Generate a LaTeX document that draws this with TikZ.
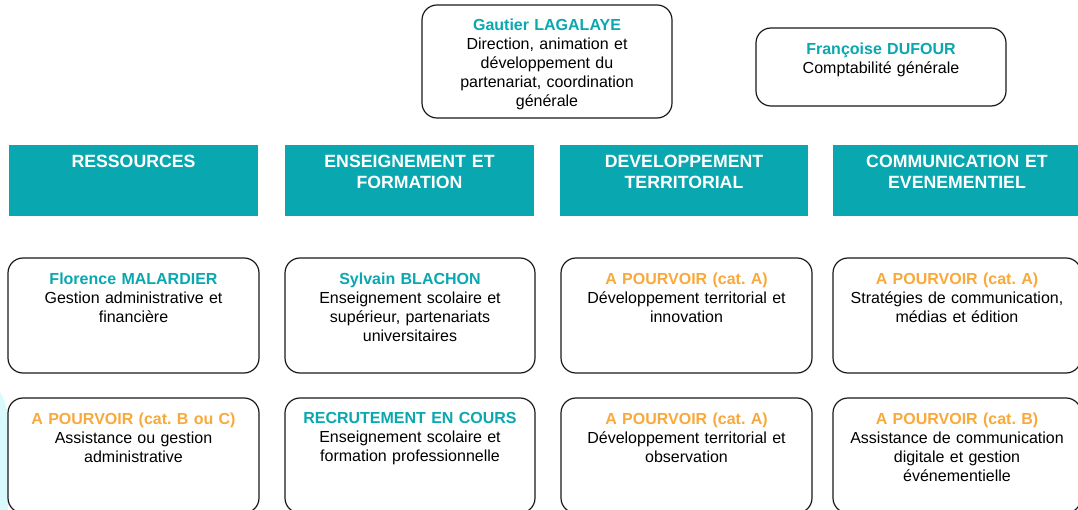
\documentclass[tikz,border=0pt]{standalone}
\usepackage{fontspec}
\setmainfont{Liberation Sans}
\usetikzlibrary{positioning}
\definecolor{bleuvert}{HTML}{09A7AF}
\definecolor{orangep}{HTML}{F9A93B}
\definecolor{cyanfond}{HTML}{D8FAFC}
\newcommand{\nom}[1]{{\color{bleuvert}\bfseries #1}}
\newcommand{\poste}[1]{{\color{orangep}\bfseries #1}}
\frenchspacing

\begin{document}
\begin{tikzpicture}[x=1pt,y=-1pt,
		card/.style={draw,rounded corners=15pt,line width=1.2pt,color=black!90,minimum width=250pt,minimum height=115pt,inner sep=0pt},
		head/.style={fill=bleuvert,minimum width=249pt,minimum height=71pt,inner sep=0pt},
		ctext/.style={align=center,text width=248pt,inner sep=0pt,font=\fontsize{16}{19}\selectfont},
		htext/.style={align=center,text width=245pt,inner sep=0pt,text=white,font=\fontsize{17.7}{21}\selectfont\bfseries}]
			\useasboundingbox (0,0) rectangle (1078,510);
			\fill[cyanfond] (0,392) .. controls (5,400) and (8,410) .. (8,425) -- (8,510) -- (0,510) -- cycle;
			\node[card,minimum height=113pt] (gautier) at (547,61.5){};
			\node[ctext,below=14.5pt of gautier.north] (gautiert){\nom{Gautier LAGALAYE}\\Direction, animation et\\développement du\\partenariat, coordination\\générale};
			\node[card,minimum height=78pt] (dufour) at (881,67){};
			\node[ctext,below=15pt of dufour.north] (dufourt){\nom{Françoise DUFOUR}\\Comptabilité générale};
			\node[head] (ress) at (133.5,180.5){};
			\node[htext,below=10.5pt of ress.north] (resst){RESSOURCES};
			\node[head] (ens) at (409.5,180.5){};
			\node[htext,below=10.5pt of ens.north] (enst){ENSEIGNEMENT ET\\FORMATION};
			\node[head,minimum width=248pt] (dev) at (684,180.5){};
			\node[htext,below=10.5pt of dev.north] (devt){DEVELOPPEMENT\\TERRITORIAL};
			\node[head] (com) at (957,180.5){};
			\node[htext,below=10.5pt of com.north] (comt){COMMUNICATION ET\\EVENEMENTIEL};
			\node[card,minimum width=251pt] (malardier) at (133.5,315.5){};
			\node[ctext,below=15pt of malardier.north] (malardiert){\nom{Florence MALARDIER}\\Gestion administrative et\\financière};
			\node[card] (blachon) at (410,315.5){};
			\node[ctext,below=15pt of blachon.north] (blachont){\nom{Sylvain BLACHON}\\Enseignement scolaire et\\supérieur, partenariats\\universitaires};
			\node[card,minimum width=251pt] (devA) at (686.5,315.5){};
			\node[ctext,below=15pt of devA.north] (devAt){\poste{A POURVOIR (cat. A)}\\Développement territorial et\\innovation};
			\node[card,minimum width=248pt] (comA) at (957,315.5){};
			\node[ctext,below=15pt of comA.north] (comAt){\poste{A POURVOIR (cat. A)}\\Stratégies de communication,\\médias et édition};
			\node[card,minimum width=251pt] (assist) at (133.5,455.5){};
			\node[ctext,below=15pt of assist.north] (assistt){\poste{A POURVOIR (cat. B ou C)}\\Assistance ou gestion\\administrative};
			\node[card] (recrut) at (410,455.5){};
			\node[ctext,below=15pt of recrut.north] (recrutt){\nom{RECRUTEMENT EN COURS}\\Enseignement scolaire et\\formation professionnelle};
			\node[card,minimum width=251pt] (devB) at (686.5,455.5){};
			\node[ctext,below=15pt of devB.north] (devBt){\poste{A POURVOIR (cat. A)}\\Développement territorial et\\observation};
			\node[card,minimum width=248pt] (comB) at (957,455.5){};
			\node[ctext,below=15pt of comB.north] (comBt){\poste{A POURVOIR (cat. B)}\\Assistance de communication\\digitale et gestion\\événementielle};
		\end{tikzpicture}
\end{document}
